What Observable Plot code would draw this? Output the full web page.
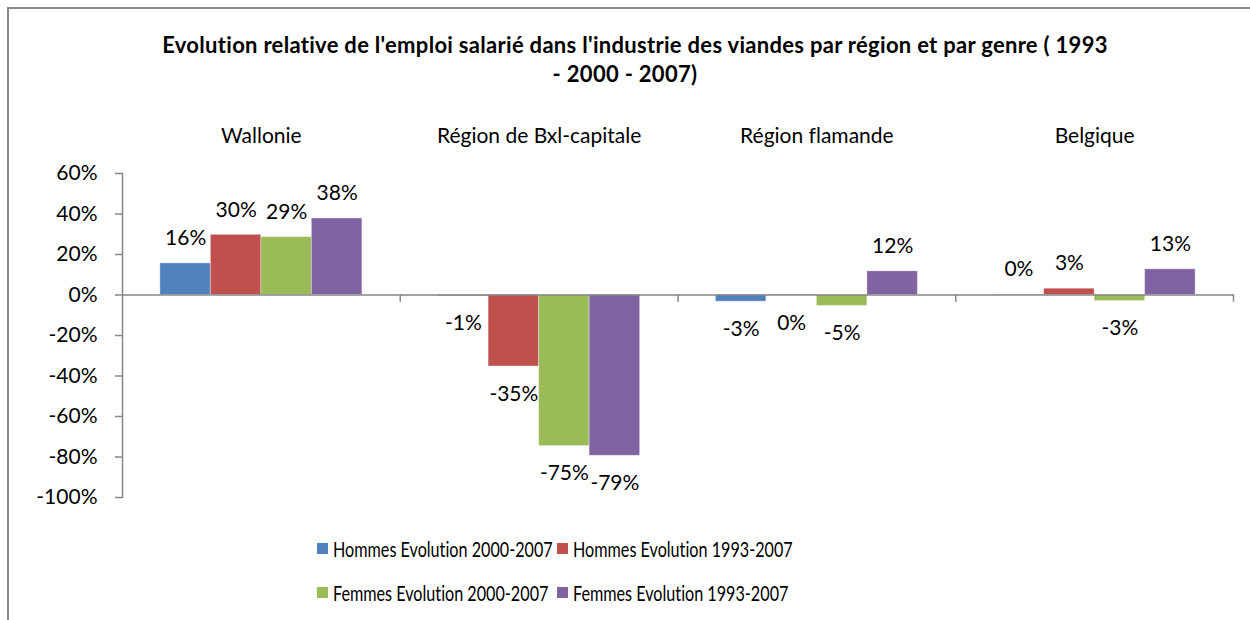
<!DOCTYPE html>
<html>
<head>
<meta charset="utf-8">
<script src="https://cdn.jsdelivr.net/npm/d3@7"></script>
<script src="https://cdn.jsdelivr.net/npm/@observablehq/plot@0.6"></script>
<style>
  html, body { margin: 0; padding: 0; background: #fff; }
  #wrap { position: relative; width: 1250px; height: 620px; overflow: hidden; font-family: Lato, "Noto Sans", sans-serif; color: #000; font-variant-ligatures: none; font-feature-settings: "liga" 0; }
  #wrap svg text { font-variant-ligatures: none; font-feature-settings: "liga" 0; }
  #border { position: absolute; left: 7px; top: 7px; width: 1300px; height: 700px; border-left: 2px solid #878787; border-top: 2px solid #878787; }
  #title { position: absolute; left: 0; top: 30px; width: 1250px; text-align: center; font-weight: bold; font-size: 22px; letter-spacing: 0.3px; line-height: 29px; text-indent: 20px; }
  #chart { position: absolute; left: 0; top: 100px; }
  #legend { position: absolute; left: 317px; top: 526px; display: grid; grid-template-columns: 240px 240px; grid-auto-rows: 44px; font-size: 21px; }
  .item { display: flex; align-items: center; white-space: nowrap; }
  .sw { width: 11px; height: 11px; margin-right: 5px; flex: none; }
  .lt { display: inline-block; transform: scaleX(0.77); transform-origin: left center; }
</style>
</head>
<body>
<div id="wrap">
  <div id="border"></div>
  <div id="title">Evolution relative de l'emploi salarié dans l'industrie des viandes par région et par genre ( 1993<br>- 2000 - 2007)</div>
  <div id="chart"></div>
  <div id="legend"></div>
</div>
<script>
const regions = ["Wallonie", "Région de Bxl-capitale", "Région flamande", "Belgique"];
const series = ["Hommes Evolution 2000-2007", "Hommes Evolution 1993-2007", "Femmes Evolution 2000-2007", "Femmes Evolution 1993-2007"];
const hommes2000 = [0.156, -0.006, -0.033, 0.002];
const hommes1993 = [0.297, -0.353, -0.002, 0.031];
const femmes2000 = [0.286, -0.746, -0.054, -0.030];
const femmes1993 = [0.378, -0.794, 0.117, 0.127];
const colors = ["#4F81BD", "#C0504D", "#9BBB59", "#8064A2"];
const yTicks = [-1, -0.8, -0.6, -0.4, -0.2, 0, 0.2, 0.4, 0.6];

const seriesValues = [hommes2000, hommes1993, femmes2000, femmes1993];
const data = regions.flatMap((r, i) => series.map((s, j) => ({region: r, series: s, value: seriesValues[j][i]})));
const pct = d => `${Math.round(d * 100)}%`;

const W = 1250, H = 410, mTop = 73, mBottom = 13, mLeft = 122, mRight = 17;
const innerH = H - mTop - mBottom;
const yDom = [yTicks[0], yTicks[yTicks.length - 1]];
const zeroOffset = innerH * (yDom[1] - 0) / (yDom[1] - yDom[0]);
const axisGray = "#868686";

const chart = Plot.plot({
  width: W, height: H,
  marginTop: mTop, marginBottom: mBottom, marginLeft: mLeft, marginRight: mRight,
  style: {fontFamily: "Lato, 'Noto Sans', sans-serif", fontSize: "21px", background: "transparent", overflow: "visible", color: "#000"},
  fx: {domain: regions, padding: 0, round: false, axis: null},
  x: {domain: series, paddingInner: 0, paddingOuter: 0.75, round: false, axis: null},
  y: {domain: yDom, label: null, axis: null},
  color: {domain: series, range: colors},
  marks: [
    Plot.barY(data, {fx: "region", x: "series", y: "value", fill: "series", stroke: "#ffffff", strokeOpacity: 0.35, strokeWidth: 1}),
    Plot.ruleY([0], {stroke: axisGray, strokeWidth: 1.5}),
    Plot.frame({anchor: "right", stroke: axisGray, strokeWidth: 1.5, insetTop: zeroOffset, insetBottom: innerH - zeroOffset - 6}),
    Plot.frame({anchor: "left", fx: [regions[0]], stroke: axisGray, strokeWidth: 1.5}),
    Plot.axisY({ticks: yTicks, tickFormat: pct, tickSize: 7, tickPadding: 18, stroke: axisGray, fill: "#000", fontSize: 21, strokeWidth: 1.5}),
    Plot.text(regions, {fx: d => d, text: d => d, frameAnchor: "top", dy: -45, fontSize: 21, fill: "#000"}),
    Plot.text(data, {filter: d => d.value >= 0, fx: "region", x: "series", y: "value", text: d => pct(d.value), dy: -25, fontSize: 21, fill: "#000"}),
    Plot.text(data, {filter: d => d.value < 0, fx: "region", x: "series", y: "value", text: d => pct(d.value), dy: 27.5, fontSize: 21, fill: "#000"})
  ]
});
document.getElementById("chart").appendChild(chart);

const legend = document.getElementById("legend");
series.forEach((s, j) => {
  const item = document.createElement("div");
  item.className = "item";
  const sw = document.createElement("span");
  sw.className = "sw";
  sw.style.background = colors[j];
  const t = document.createElement("span");
  t.className = "lt";
  t.textContent = s;
  item.appendChild(sw);
  item.appendChild(t);
  legend.appendChild(item);
});
</script>
</body>
</html>
